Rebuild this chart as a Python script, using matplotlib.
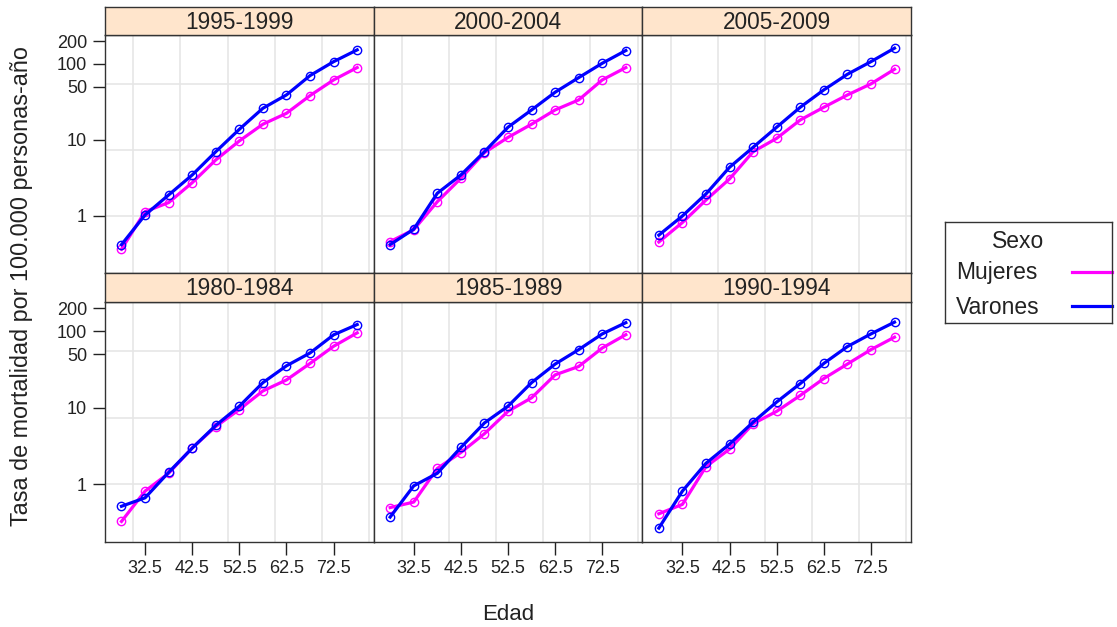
import numpy as np
import matplotlib.pyplot as plt

plt.rcParams['font.family'] = ['Liberation Sans', 'DejaVu Sans']

edad = [27.5, 32.5, 37.5, 42.5, 47.5, 52.5, 57.5, 62.5, 67.5, 72.5, 77.5]
periodos = ['1995-1999', '2000-2004', '2005-2009', '1980-1984', '1985-1989', '1990-1994']

mujeres = {
    '1995-1999': [0.365, 1.14, 1.50, 2.74, 5.46, 9.7, 16.1, 22.4, 38.3, 61.6, 89.5],
    '2000-2004': [0.46, 0.66, 1.54, 3.13, 6.8, 10.8, 16.1, 24.8, 33.6, 61.6, 89.5],
    '2005-2009': [0.455, 0.82, 1.62, 3.07, 7.0, 10.5, 18.3, 26.9, 39.0, 54.6, 85.0],
    '1980-1984': [0.33, 0.82, 1.40, 3.0, 5.7, 9.5, 16.6, 23.1, 37.9, 63.5, 95.0],
    '1985-1989': [0.50, 0.59, 1.62, 2.61, 4.6, 9.0, 13.5, 26.9, 34.6, 60.3, 90.0],
    '1990-1994': [0.415, 0.55, 1.71, 2.89, 6.2, 9.0, 14.5, 24.1, 37.2, 57.4, 83.4],
}
varones = {
    '1995-1999': [0.42, 1.03, 1.89, 3.46, 7.0, 13.8, 26.1, 39.1, 70.2, 107, 153],
    '2000-2004': [0.42, 0.67, 1.99, 3.46, 7.0, 14.7, 24.8, 42.4, 66.0, 102, 150],
    '2005-2009': [0.56, 1.0, 1.95, 4.37, 8.0, 14.7, 26.9, 45.5, 73.0, 107, 161],
    '1980-1984': [0.52, 0.67, 1.44, 2.98, 5.9, 10.5, 21.3, 35.3, 51.9, 89.5, 122],
    '1985-1989': [0.376, 0.96, 1.40, 3.04, 6.35, 10.5, 21.3, 37.2, 57.4, 92, 129],
    '1990-1994': [0.27, 0.82, 1.89, 3.36, 6.5, 11.9, 20.7, 37.9, 62.9, 92, 131],
}

x_ticks = [32.5, 42.5, 52.5, 62.5, 72.5]
y_ticks = [1, 10, 50, 100, 200]

W, H = 1117, 627
fig = plt.figure(figsize=(W / 100, H / 100), dpi=100)

left, right = 105, 911
pw = (right - left) / 3
rows = [(7, 35, 273), (273, 302, 542)]  # strip top, panel top, panel bottom

def fx(px):
    return px / W

def fy(py):
    return 1 - py / H

txt_col = '#222222'
grid_col = '#e6e6e6'
for i, per in enumerate(periodos):
    r, c = divmod(i, 3)
    st, pt, pb = rows[r]
    x0 = left + c * pw
    ax = fig.add_axes([fx(x0), fy(pb), fx(pw), (pb - pt) / H])
    ax.set_yscale('log')
    ax.set_xlim(24, 81)
    ax.set_ylim(10 ** -0.75, 10 ** 2.38)
    for g in [30, 40, 50, 60, 70, 80]:
        ax.axvline(g, color=grid_col, lw=1.2, zorder=0)
    for g in [0, 2, 4]:
        ax.axhline(np.exp(g), color=grid_col, lw=1.2, zorder=0)
    ax.plot(edad, mujeres[per], color='#ff00ff', lw=2.3, marker='o', ms=6,
            mfc='none', mew=1)
    ax.plot(edad, varones[per], color='#0000ff', lw=2.3, marker='o', ms=6,
            mfc='none', mew=1)
    ax.minorticks_off()
    ax.set_xticks(x_ticks)
    ax.set_yticks(y_ticks)
    ax.set_yticklabels([str(v) for v in y_ticks])
    ax.tick_params(direction='out', length=9, width=1, labelsize=13, pad=4,
                   colors='#222222', labelcolor=txt_col)
    if r == 0:
        ax.tick_params(axis='x', length=0, labelbottom=False)
    if c != 0:
        ax.tick_params(axis='y', length=0, labelleft=False)
    for s in ax.spines.values():
        s.set_color('#333333')
        s.set_linewidth(1)

    sax = fig.add_axes([fx(x0), fy(pt), fx(pw), (pt - st) / H])
    sax.set_facecolor('#ffe5cc')
    sax.set_xticks([])
    sax.set_yticks([])
    for s in sax.spines.values():
        s.set_color('#333333')
        s.set_linewidth(1)
    sax.text(0.5, 0.45, per, ha='center', va='center', fontsize=16.3,
             color=txt_col, transform=sax.transAxes)

fig.text(fx((left + right) / 2), fy(614), 'Edad', ha='center', va='center',
         fontsize=16, color=txt_col)
fig.text(fx(22), fy(286), 'Tasa de mortalidad por 100.000 personas-año',
         rotation=90, ha='center', va='center', fontsize=16.8, color=txt_col)

# leyenda
lax = fig.add_axes([fx(945), fy(323), fx(167), (323 - 222) / H])
lax.set_xlim(945, 1112)
lax.set_ylim(323, 222)
lax.set_xticks([])
lax.set_yticks([])
for s in lax.spines.values():
    s.set_color('#333333')
    s.set_linewidth(1)
lax.text(1018, 241, 'Sexo', ha='center', va='center', fontsize=16.5, color=txt_col)
lax.text(956, 273, 'Mujeres', ha='left', va='center', fontsize=16.5, color=txt_col)
lax.text(956, 307, 'Varones', ha='left', va='center', fontsize=16.5, color=txt_col)
lax.plot([1072, 1112], [272, 272], color='#ff00ff', lw=2.3, clip_on=False)
lax.plot([1072, 1112], [306, 306], color='#0000ff', lw=2.3, clip_on=False)

fig.savefig('out.png', dpi=100)
